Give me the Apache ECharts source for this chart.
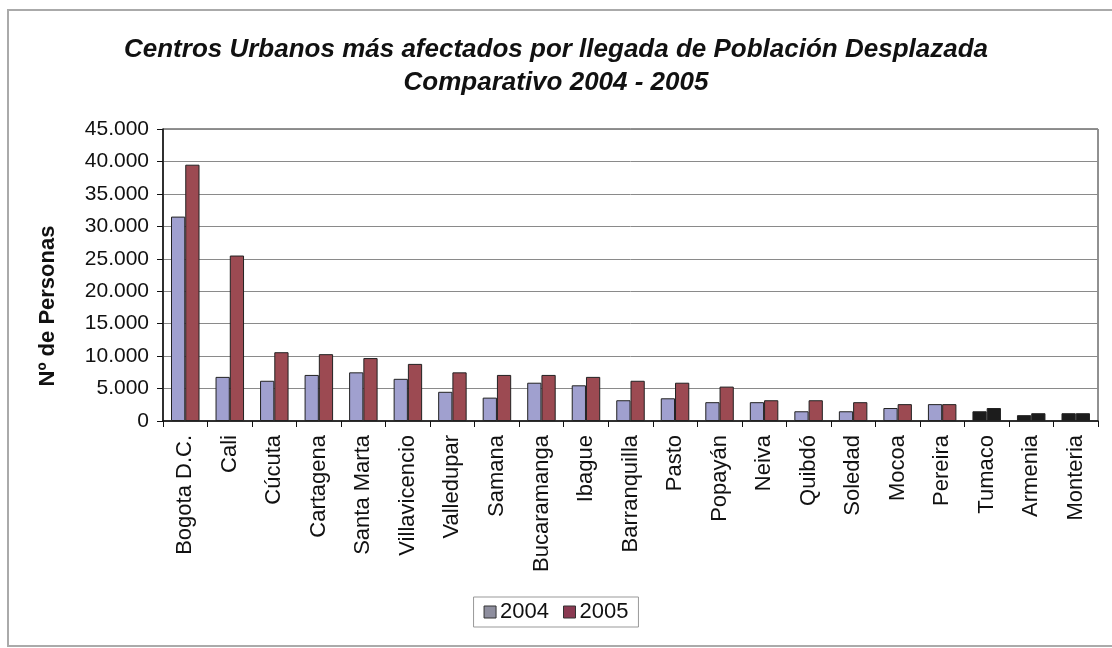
<!DOCTYPE html>
<html>
<head>
<meta charset="utf-8">
<script src="https://cdn.jsdelivr.net/npm/echarts@6/dist/echarts.min.js"></script>
<style>
  html, body { margin: 0; padding: 0; background: #fff; }
  #chart { width: 1112px; height: 648px; }
</style>
</head>
<body>
<div id="chart"></div>
<script>
// datos
const categorias = ['Bogota D.C.', 'Cali', 'Cúcuta', 'Cartagena', 'Santa Marta', 'Villavicencio', 'Valledupar',
  'Samana', 'Bucaramanga', 'Ibague', 'Barranquilla', 'Pasto', 'Popayán', 'Neiva', 'Quibdó', 'Soledad',
  'Mocoa', 'Pereira', 'Tumaco', 'Armenia', 'Monteria']
const valores2004 = [31500, 6800, 6200, 7100, 7500, 6500, 4500, 3600, 5900, 5500, 3200, 3500, 2900, 2900,
  1500, 1500, 2000, 2600, 1500, 900, 1200]
const valores2005 = [39500, 25500, 10600, 10300, 9700, 8800, 7500, 7100, 7100, 6800, 6200, 5900, 5300, 3200,
  3200, 2900, 2600, 2600, 2000, 1200, 1200]
const ticksY = [0, 5000, 10000, 15000, 20000, 25000, 30000, 35000, 40000, 45000]

// en el escaneo las ultimas barras salen casi negras
const oscuras = ['Tumaco', 'Armenia', 'Monteria']

const fuente = "'Liberation Sans', Arial, sans-serif"

const chart = echarts.init(document.getElementById('chart'))

const conColor = (vals, color) => vals.map((v, i) => ({
  value: v,
  itemStyle: { color: oscuras.includes(categorias[i]) ? '#1c1c1c' : color }
}))

const formato = v => String(v).replace(/\B(?=(\d{3})+(?!\d))/g, '.')

const option = {
  animation: false,
  backgroundColor: '#fff',
  textStyle: { fontFamily: fuente },
  title: {
    text: 'Centros Urbanos más afectados por llegada de Población Desplazada\nComparativo 2004 - 2005',
    left: 'center',
    top: 28,
    textStyle: {
      fontFamily: fuente,
      fontSize: 26,
      fontWeight: 'bold',
      fontStyle: 'italic',
      color: '#111',
      lineHeight: 33
    }
  },
  legend: {
    data: [
      { name: '2004', itemStyle: { color: '#8e8e9e' } },
      { name: '2005', itemStyle: { color: '#8a3a52' } }
    ],
    left: 'center',
    top: 597,
    icon: 'rect',
    itemWidth: 12,
    itemHeight: 12,
    itemGap: 14,
    padding: [4, 10],
    borderColor: '#999',
    borderWidth: 1,
    textStyle: { fontFamily: fuente, fontSize: 22, color: '#111', padding: [0, 0, 0, -1] },
    itemStyle: { borderColor: '#333', borderWidth: 1 }
  },
  grid: {
    left: 163,
    right: 14,
    top: 129,
    bottom: 227,
    show: true,
    borderColor: '#222',
    borderWidth: 1
  },
  xAxis: {
    type: 'category',
    data: categorias,
    axisLine: { lineStyle: { color: '#111', width: 1.5 } },
    axisTick: { show: true, length: 6, lineStyle: { color: '#111' } },
    axisLabel: {
      rotate: 90,
      interval: 0,
      margin: 14,
      fontFamily: fuente,
      fontSize: 22,
      color: '#111'
    }
  },
  yAxis: {
    type: 'value',
    min: 0,
    max: 45000,
    interval: 5000,
    axisLine: { show: true, lineStyle: { color: '#111', width: 1.5 } },
    axisTick: { show: true, length: 6, lineStyle: { color: '#111' } },
    splitLine: { lineStyle: { color: '#8a8a8a', width: 1 } },
    axisLabel: {
      margin: 14,
      fontFamily: fuente,
      fontSize: 21,
      color: '#111',
      customValues: ticksY,
      formatter: formato
    }
  },
  series: [
    {
      name: '2004',
      type: 'bar',
      data: conColor(valores2004, '#a0a0cf'),
      barGap: '0%',
      barCategoryGap: '36%',
      itemStyle: { color: '#a0a0cf', borderColor: '#222', borderWidth: 1 }
    },
    {
      name: '2005',
      type: 'bar',
      data: conColor(valores2005, '#9c4a52'),
      itemStyle: { color: '#9c4a52', borderColor: '#222', borderWidth: 1 }
    }
  ],
  graphic: [
    {
      type: 'rect',
      shape: { x: 8, y: 10, width: 1110, height: 636 },
      style: { fill: 'none', stroke: '#aaa', lineWidth: 2 },
      silent: true
    },
    {
      // titulo del eje Y, en el original queda algo por debajo del centro
      type: 'text',
      x: 48,
      y: 306,
      rotation: Math.PI / 2,
      style: {
        text: 'Nº de Personas',
        fontFamily: fuente,
        fontSize: 22,
        fontWeight: 'bold',
        fill: '#111',
        align: 'center',
        verticalAlign: 'middle'
      }
    }
  ]
}

chart.setOption(option)
</script>
</body>
</html>
